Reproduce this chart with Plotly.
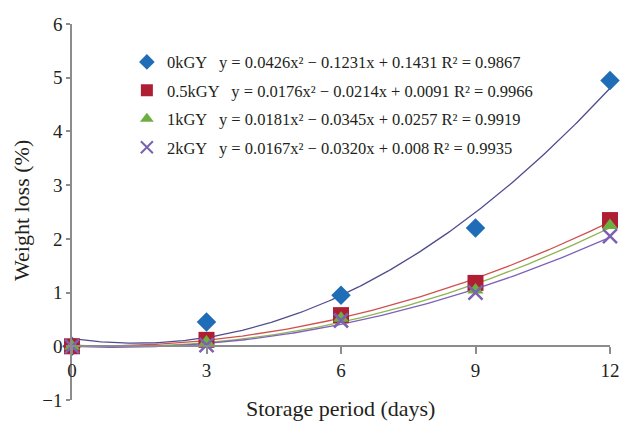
import numpy as np
import plotly.graph_objects as go

days = [0, 3, 6, 9, 12]
loss_0 = [0.0, 0.45, 0.95, 2.20, 4.95]
loss_05 = [0.0, 0.12, 0.58, 1.18, 2.35]
loss_1 = [0.0, 0.08, 0.52, 1.05, 2.25]
loss_2 = [0.0, 0.02, 0.48, 1.00, 2.05]

names = [
    "0kGY   y = 0.0426x² − 0.1231x + 0.1431 R² = 0.9867",
    "0.5kGY   y = 0.0176x² − 0.0214x + 0.0091 R² = 0.9966",
    "1kGY   y = 0.0181x² − 0.0345x + 0.0257 R² = 0.9919",
    "2kGY   y = 0.0167x² − 0.0320x + 0.008 R² = 0.9935",
]
series = [loss_0, loss_05, loss_1, loss_2]
marker_colors = ["#1F6DB6", "#AE1F33", "#6DAE3F", "#7A62B0"]
line_colors = ["#4F4C8E", "#D0504F", "#8DB552", "#7E62BC"]
symbols = ["diamond", "square", "triangle-up", "x-thin"]
sizes = [15, 16, 14, 14]

fig = go.Figure()
xf = np.linspace(0, 12, 200)
for i, ys in enumerate(series):
    c = np.polyfit(days, ys, 2)
    fig.add_trace(go.Scatter(x=xf, y=np.polyval(c, xf), mode="lines",
                             line=dict(color=line_colors[i], width=1.3),
                             showlegend=False, hoverinfo="skip"))
for i, ys in enumerate(series):
    mk = dict(color=marker_colors[i], size=sizes[i], symbol=symbols[i])
    if symbols[i] == "x-thin":
        mk["line"] = dict(color=marker_colors[i], width=2.5)
    fig.add_trace(go.Scatter(x=days, y=ys, mode="markers", name=names[i],
                             marker=mk, cliponaxis=False,
                             legendgroup=f"g{i}"))

font_family = "Liberation Serif, serif"
fig.update_layout(
    width=622, height=424,
    margin=dict(l=72, r=12, t=24, b=24),
    plot_bgcolor="white", paper_bgcolor="white",
    font=dict(family=font_family, color="#231F20", size=17),
    xaxis=dict(range=[0, 12], tickvals=days, showgrid=False, zeroline=False,
               showline=True, linecolor="#8C8C8C", linewidth=1.5,
               ticks="outside", ticklen=7, tickcolor="#8C8C8C", tickwidth=1.5,
               anchor="free", position=1/7, tickfont=dict(size=19),
               automargin=False),
    yaxis=dict(range=[-1, 6], dtick=1, showgrid=False, zeroline=False,
               showline=True, linecolor="#8C8C8C", linewidth=1.5,
               ticks="outside", ticklen=4, tickcolor="#8C8C8C", tickwidth=1.5,
               tickfont=dict(size=19), automargin=False),
    legend=dict(x=0.102, y=0.945, xanchor="left", yanchor="top",
                font=dict(size=16.5), bgcolor="rgba(0,0,0,0)",
                tracegroupgap=4, itemwidth=30, itemsizing="constant"),
    annotations=[
        dict(text="Storage period (days)", x=(340 - 72) / 538, y=-(23 / 376),
             xref="paper", yref="paper", yanchor="bottom",
             showarrow=False, font=dict(size=22)),
        dict(text="Weight loss (%)", x=-(51 / 538), y=(400 - 211) / 376,
             xref="paper", yref="paper", xanchor="center", yanchor="middle",
             showarrow=False, textangle=-90, font=dict(size=22)),
    ],
)
fig.write_html("out.html", config={"displayModeBar": False},
               post_script="document.body.style.margin='0';document.body.style.overflow='hidden';")
